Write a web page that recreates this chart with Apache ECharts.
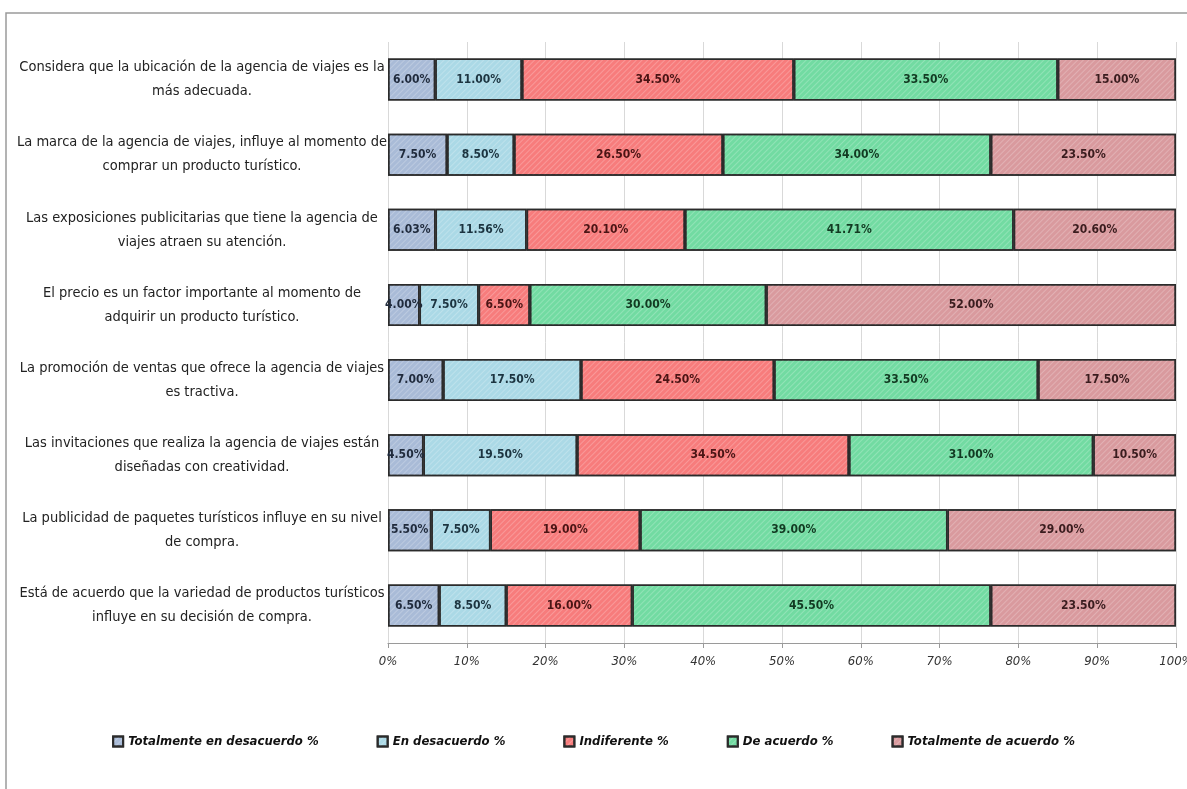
<!DOCTYPE html>
<html>
<head>
<meta charset="utf-8">
<script src="https://cdn.jsdelivr.net/npm/echarts@6/dist/echarts.min.js"></script>
<style>
  html, body { margin: 0; padding: 0; background: #ffffff; }
  #chart { width: 1187px; height: 789px; }
</style>
</head>
<body>
<div id="chart"></div>
<script>
// Survey statements (top to bottom)
const categories = [
  'Considera que la ubicación de la agencia de viajes es la\nmás adecuada.',
  'La marca de la agencia de viajes, influye al momento de\ncomprar un producto turístico.',
  'Las exposiciones publicitarias que tiene la agencia de\nviajes atraen su atención.',
  'El precio es un factor importante al momento de\nadquirir un producto turístico.',
  'La promoción de ventas que ofrece la agencia de viajes\nes tractiva.',
  'Las invitaciones que realiza la agencia de viajes están\ndiseñadas con creatividad.',
  'La publicidad de paquetes turísticos influye en su nivel\nde compra.',
  'Está de acuerdo que la variedad de productos turísticos\ninfluye en su decisión de compra.'
];

const seriesNames = [
  'Totalmente en desacuerdo %',
  'En desacuerdo %',
  'Indiferente %',
  'De acuerdo %',
  'Totalmente de acuerdo %'
];

// Percentages per answer, one value per statement
const totalmenteDesacuerdo = [6.00, 7.50, 6.03, 4.00, 7.00, 4.50, 5.50, 6.50];
const enDesacuerdo         = [11.00, 8.50, 11.56, 7.50, 17.50, 19.50, 7.50, 8.50];
const indiferente          = [34.50, 26.50, 20.10, 6.50, 24.50, 34.50, 19.00, 16.00];
const deAcuerdo            = [33.50, 34.00, 41.71, 30.00, 33.50, 31.00, 39.00, 45.50];
const totalmenteAcuerdo    = [15.00, 23.50, 20.60, 52.00, 17.50, 10.50, 29.00, 23.50];

const xTicks = [0, 10, 20, 30, 40, 50, 60, 70, 80, 90, 100];

const valueSets = [totalmenteDesacuerdo, enDesacuerdo, indiferente, deAcuerdo, totalmenteAcuerdo];
const fills = ['#a9bbd7', '#abd9e6', '#f77c7c', '#72dba2', '#d99a9e'];
const labelColors = ['#1f2a3c', '#1c3440', '#4a1414', '#123a22', '#3a1c1e'];
const narrowFont = 'Liberation Sans Narrow, DejaVu Sans Condensed, sans-serif';

const chart = echarts.init(document.getElementById('chart'), null, { renderer: 'canvas' });

const series = valueSets.map((vals, i) => ({
  name: seriesNames[i],
  type: 'bar',
  stack: 'total',
  barWidth: '56%',
  data: vals,
  itemStyle: {
    color: fills[i],
    borderColor: '#2b2b2b',
    borderWidth: 1.5,
    decal: {
      symbol: 'rect',
      symbolSize: 1,
      dashArrayX: [1, 0],
      dashArrayY: [1, 3],
      rotation: -Math.PI / 4,
      color: 'rgba(255,255,255,0.22)'
    }
  },
  label: {
    show: true,
    position: 'inside',
    formatter: p => p.value.toFixed(2) + '%',
    fontFamily: narrowFont,
    fontSize: 12,
    fontWeight: 'bold',
    color: labelColors[i]
  },
  emphasis: { disabled: true }
}));

chart.setOption({
  backgroundColor: '#ffffff',
  animation: false,
  graphic: [{
    type: 'rect',
    shape: { x: 6, y: 13, width: 1200, height: 800 },
    style: { fill: 'none', stroke: '#9a9a9a', lineWidth: 1.5 },
    silent: true
  }],
  grid: {
    left: 388, right: 11, top: 42, bottom: 146,
    containLabel: false,
    outerBoundsMode: 'none'
  },
  xAxis: {
    type: 'value',
    min: 0,
    max: 100,
    interval: 10,
    axisLine: { show: true, lineStyle: { color: '#9a9a9a', width: 1.2 } },
    axisTick: { show: true, length: 5, lineStyle: { color: '#9a9a9a' } },
    splitLine: { show: true, lineStyle: { color: '#d9d9d9', width: 1 } },
    axisLabel: {
      formatter: v => xTicks.includes(v) ? v + '%' : '',
      fontFamily: narrowFont,
      fontStyle: 'italic',
      fontSize: 13,
      color: '#333',
      margin: 12,
      hideOverlap: false
    }
  },
  yAxis: {
    type: 'category',
    inverse: true,
    data: categories,
    axisLine: { show: false },
    axisTick: { show: false },
    axisLabel: {
      align: 'center',
      margin: 186,
      fontFamily: narrowFont,
      fontSize: 14.5,
      lineHeight: 24,
      color: '#222'
    }
  },
  legend: {
    bottom: 36,
    left: 'center',
    itemWidth: 10,
    itemHeight: 10,
    itemGap: 58,
    icon: 'rect',
    textStyle: {
      fontFamily: narrowFont,
      fontStyle: 'italic',
      fontWeight: 'bold',
      fontSize: 13,
      color: '#111'
    },
    data: seriesNames
  },
  series: series
});
</script>
</body>
</html>
